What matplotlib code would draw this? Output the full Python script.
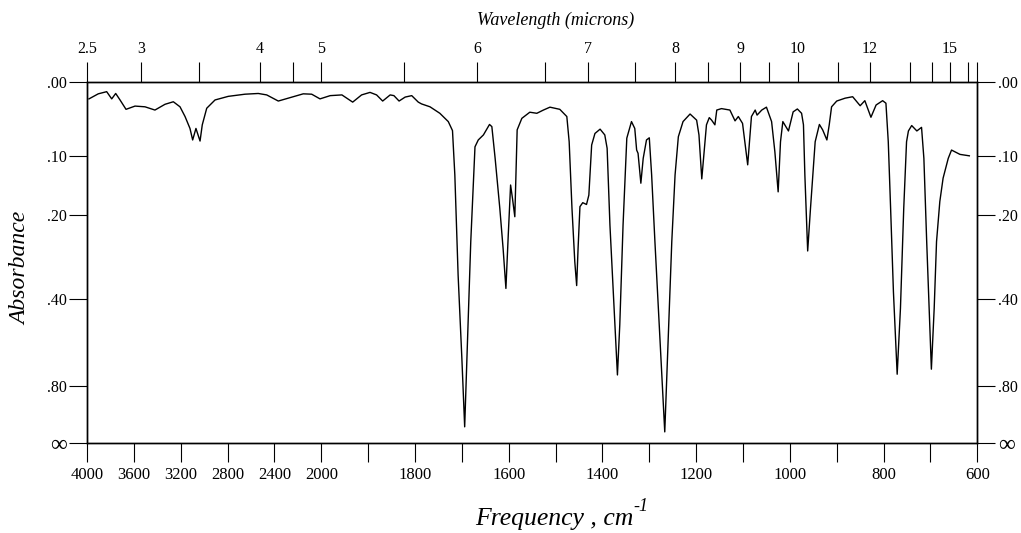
import numpy as np
import matplotlib
matplotlib.use("Agg")
import matplotlib.pyplot as plt

plt.rcParams['font.family'] = ['Liberation Serif', 'DejaVu Serif']

# spectrum: frequency (cm-1) and transmittance (%)
freq_cm = [3983, 3904, 3832, 3789, 3755, 3718, 3667, 3590, 3505, 3420,
           3334, 3263, 3206, 3163, 3121, 3098, 3070, 3035, 3016, 2978,
           2907, 2794, 2651, 2538, 2466, 2367, 2282, 2154, 2082, 2011,
           1981, 1956, 1933, 1914, 1896, 1882, 1869, 1853, 1845, 1834,
           1821, 1807, 1793, 1786, 1768, 1747, 1729, 1720, 1715, 1708,
           1700, 1694, 1688, 1681, 1672, 1665, 1654, 1641, 1636, 1629,
           1619, 1612, 1606, 1601, 1596, 1592, 1587, 1582, 1572, 1555,
           1540, 1526, 1512, 1491, 1476, 1471, 1465, 1459, 1455, 1452,
           1448, 1442, 1434, 1429, 1423, 1416, 1405, 1395, 1390, 1384,
           1375, 1368, 1363, 1356, 1348, 1338, 1331, 1327, 1324, 1318,
           1313, 1306, 1300, 1295, 1288, 1277, 1267, 1260, 1252, 1245,
           1238, 1228, 1213, 1199, 1194, 1188, 1183, 1178, 1172, 1167,
           1160, 1156, 1146, 1128, 1117, 1110, 1101, 1090, 1082, 1074,
           1070, 1060, 1050, 1039, 1032, 1025, 1020, 1015, 1003, 993,
           984, 975, 971, 968, 962, 956, 946, 937, 930, 921,
           916, 911, 900, 882, 866, 850, 840, 827, 816, 802,
           795, 790, 785, 779, 771, 764, 757, 751, 747, 740,
           729, 719, 714, 708, 698, 692, 687, 680, 673, 662,
           655, 637, 617]
transmittance = [95.4, 96.8, 97.4, 95.4, 96.9, 95.1, 92.5, 93.4, 93.2, 92.3,
                 93.9, 94.6, 93.2, 90.5, 87.2, 84.0, 87.2, 83.7, 88.2, 92.8,
                 95.1, 96.1, 96.7, 96.9, 96.5, 94.8, 95.6, 96.8, 96.7, 95.4,
                 96.3, 96.5, 94.5, 96.5, 97.2, 96.5, 94.8, 96.5, 96.3, 94.8,
                 95.9, 96.3, 94.5, 94.0, 93.2, 91.4, 89.1, 86.6, 74.3, 46.5,
                 23.4, 4.4, 28.0, 55.8, 82.1, 84.0, 85.4, 88.3, 87.7, 78.9,
                 65.0, 53.9, 42.8, 57.6, 71.5, 67.8, 62.7, 86.8, 90.0, 91.7,
                 91.4, 92.3, 93.1, 92.5, 90.5, 83.5, 65.0, 50.2, 43.6, 53.9,
                 65.5, 66.6, 66.1, 68.7, 82.6, 85.8, 87.0, 85.4, 81.7, 60.4,
                 37.3, 18.8, 32.7, 60.4, 84.5, 89.1, 87.2, 81.2, 80.3, 72.0,
                 78.9, 84.0, 84.6, 74.3, 55.8, 28.0, 3.0, 28.0, 55.8, 74.3,
                 84.9, 89.1, 91.2, 89.5, 85.4, 73.2, 80.7, 88.2, 90.2, 89.5,
                 88.2, 92.3, 92.7, 92.3, 89.3, 90.5, 88.6, 77.1, 90.5, 92.3,
                 90.9, 92.3, 93.1, 89.1, 80.7, 69.6, 83.5, 89.1, 86.5, 91.8,
                 92.6, 91.4, 88.2, 74.3, 53.2, 65.0, 83.5, 88.3, 86.8, 84.0,
                 88.2, 93.2, 94.8, 95.6, 96.0, 93.5, 94.9, 90.3, 93.7, 94.9,
                 94.2, 83.5, 65.0, 41.9, 19.0, 37.3, 65.0, 83.5, 86.5, 88.0,
                 86.5, 87.5, 78.9, 55.8, 20.4, 37.3, 55.8, 66.9, 73.4, 78.9,
                 81.2, 80.0, 79.6]

freq_ticks = [4000, 3600, 3200, 2800, 2400, 2000, 1900, 1800, 1700, 1600,
              1500, 1400, 1300, 1200, 1100, 1000, 900, 800, 700, 600]
freq_labels = ['4000', '3600', '3200', '2800', '2400', '2000', '', '1800', '', '1600',
               '', '1400', '', '1200', '', '1000', '', '800', '', '600']

abs_ticks = [0.0, 0.1, 0.2, 0.4, 0.8]
abs_labels = ['.00', '.10', '.20', '.40', '.80']

# wavelength ticks, positions (cm-1) as drawn on the original
micron_pos_cm = [4000, 3536, 3044, 2523, 2244, 2000, 1823, 1668, 1522, 1430,
                 1330, 1245, 1175, 1106, 1045, 983, 898, 829, 744, 697,
                 659, 620, 600]
micron_labels = ['2.5', '3', '', '4', '', '5', '', '6', '', '7',
                 '', '8', '', '9', '', '10', '', '12', '', '',
                 '15', '', '']


# 400 cm-1 per division above 2000, 100 cm-1 per division below
def fwd(f):
    f = np.asarray(f, dtype=float)
    return np.where(f >= 2000, f / 400.0, f / 100.0 - 15.0)


def inv(p):
    p = np.asarray(p, dtype=float)
    return np.where(p >= 5, p * 400.0, (p + 15.0) * 100.0)


fig = plt.figure(figsize=(10.21, 5.33), dpi=100)
ax = fig.add_axes([87 / 1021, 1 - 442.7 / 533, 890.3 / 1021, 360.4 / 533])

ax.plot(freq_cm, transmittance, color='black', lw=1.0)

ax.set_xscale('function', functions=(fwd, inv))
ax.set_xlim(4000, 600)
ax.set_ylim(0, 100)

ax.set_xticks(freq_ticks)
ax.set_xticklabels(freq_labels)
ytick_pos = [100 * 10 ** (-a) for a in abs_ticks] + [0]
ax.set_yticks(ytick_pos)
ax.set_yticklabels(abs_labels + ['\u221e'])
ax.tick_params(axis='x', direction='out', length=13.7, width=0.8,
               labelsize=12, pad=3.5, top=False)
ax.tick_params(axis='y', direction='out', length=13.2, width=0.8,
               labelsize=11.5, pad=1.5, left=True, right=True,
               labelleft=True, labelright=True)
inf_tick = ax.yaxis.get_major_ticks()[-1]
inf_tick.label1.set_fontsize(17)
inf_tick.label2.set_fontsize(17)

for sp in ax.spines.values():
    sp.set_linewidth(1.0)

ax2 = ax.twiny()
ax2.set_xscale('function', functions=(fwd, inv))
ax2.set_xlim(4000, 600)
ax2.set_xticks(micron_pos_cm)
ax2.set_xticklabels(micron_labels)
ax2.tick_params(axis='x', direction='out', length=14.4, width=0.8,
                labelsize=11.5, pad=4)
for sp in ax2.spines.values():
    sp.set_linewidth(1.0)

ax2.set_xlabel('Wavelength (microns)', fontsize=13, fontstyle='italic', va='center')
ax2.xaxis.set_label_coords(0.526, 1.173)

xl = ax.set_xlabel('Frequency , cm', fontsize=18.5, fontstyle='italic', va='center')
ax.xaxis.set_label_coords(0.525, -0.212)
ax.annotate('-1', xy=(1.0, 0.7), xycoords=xl, fontsize=13, fontstyle='italic',
            ha='left', va='bottom')

ax.set_ylabel('Absorbance', fontsize=17, fontstyle='italic', va='center')
ax.yaxis.set_label_coords(-0.074, 0.485)

fig.savefig('out.png', dpi=100)
